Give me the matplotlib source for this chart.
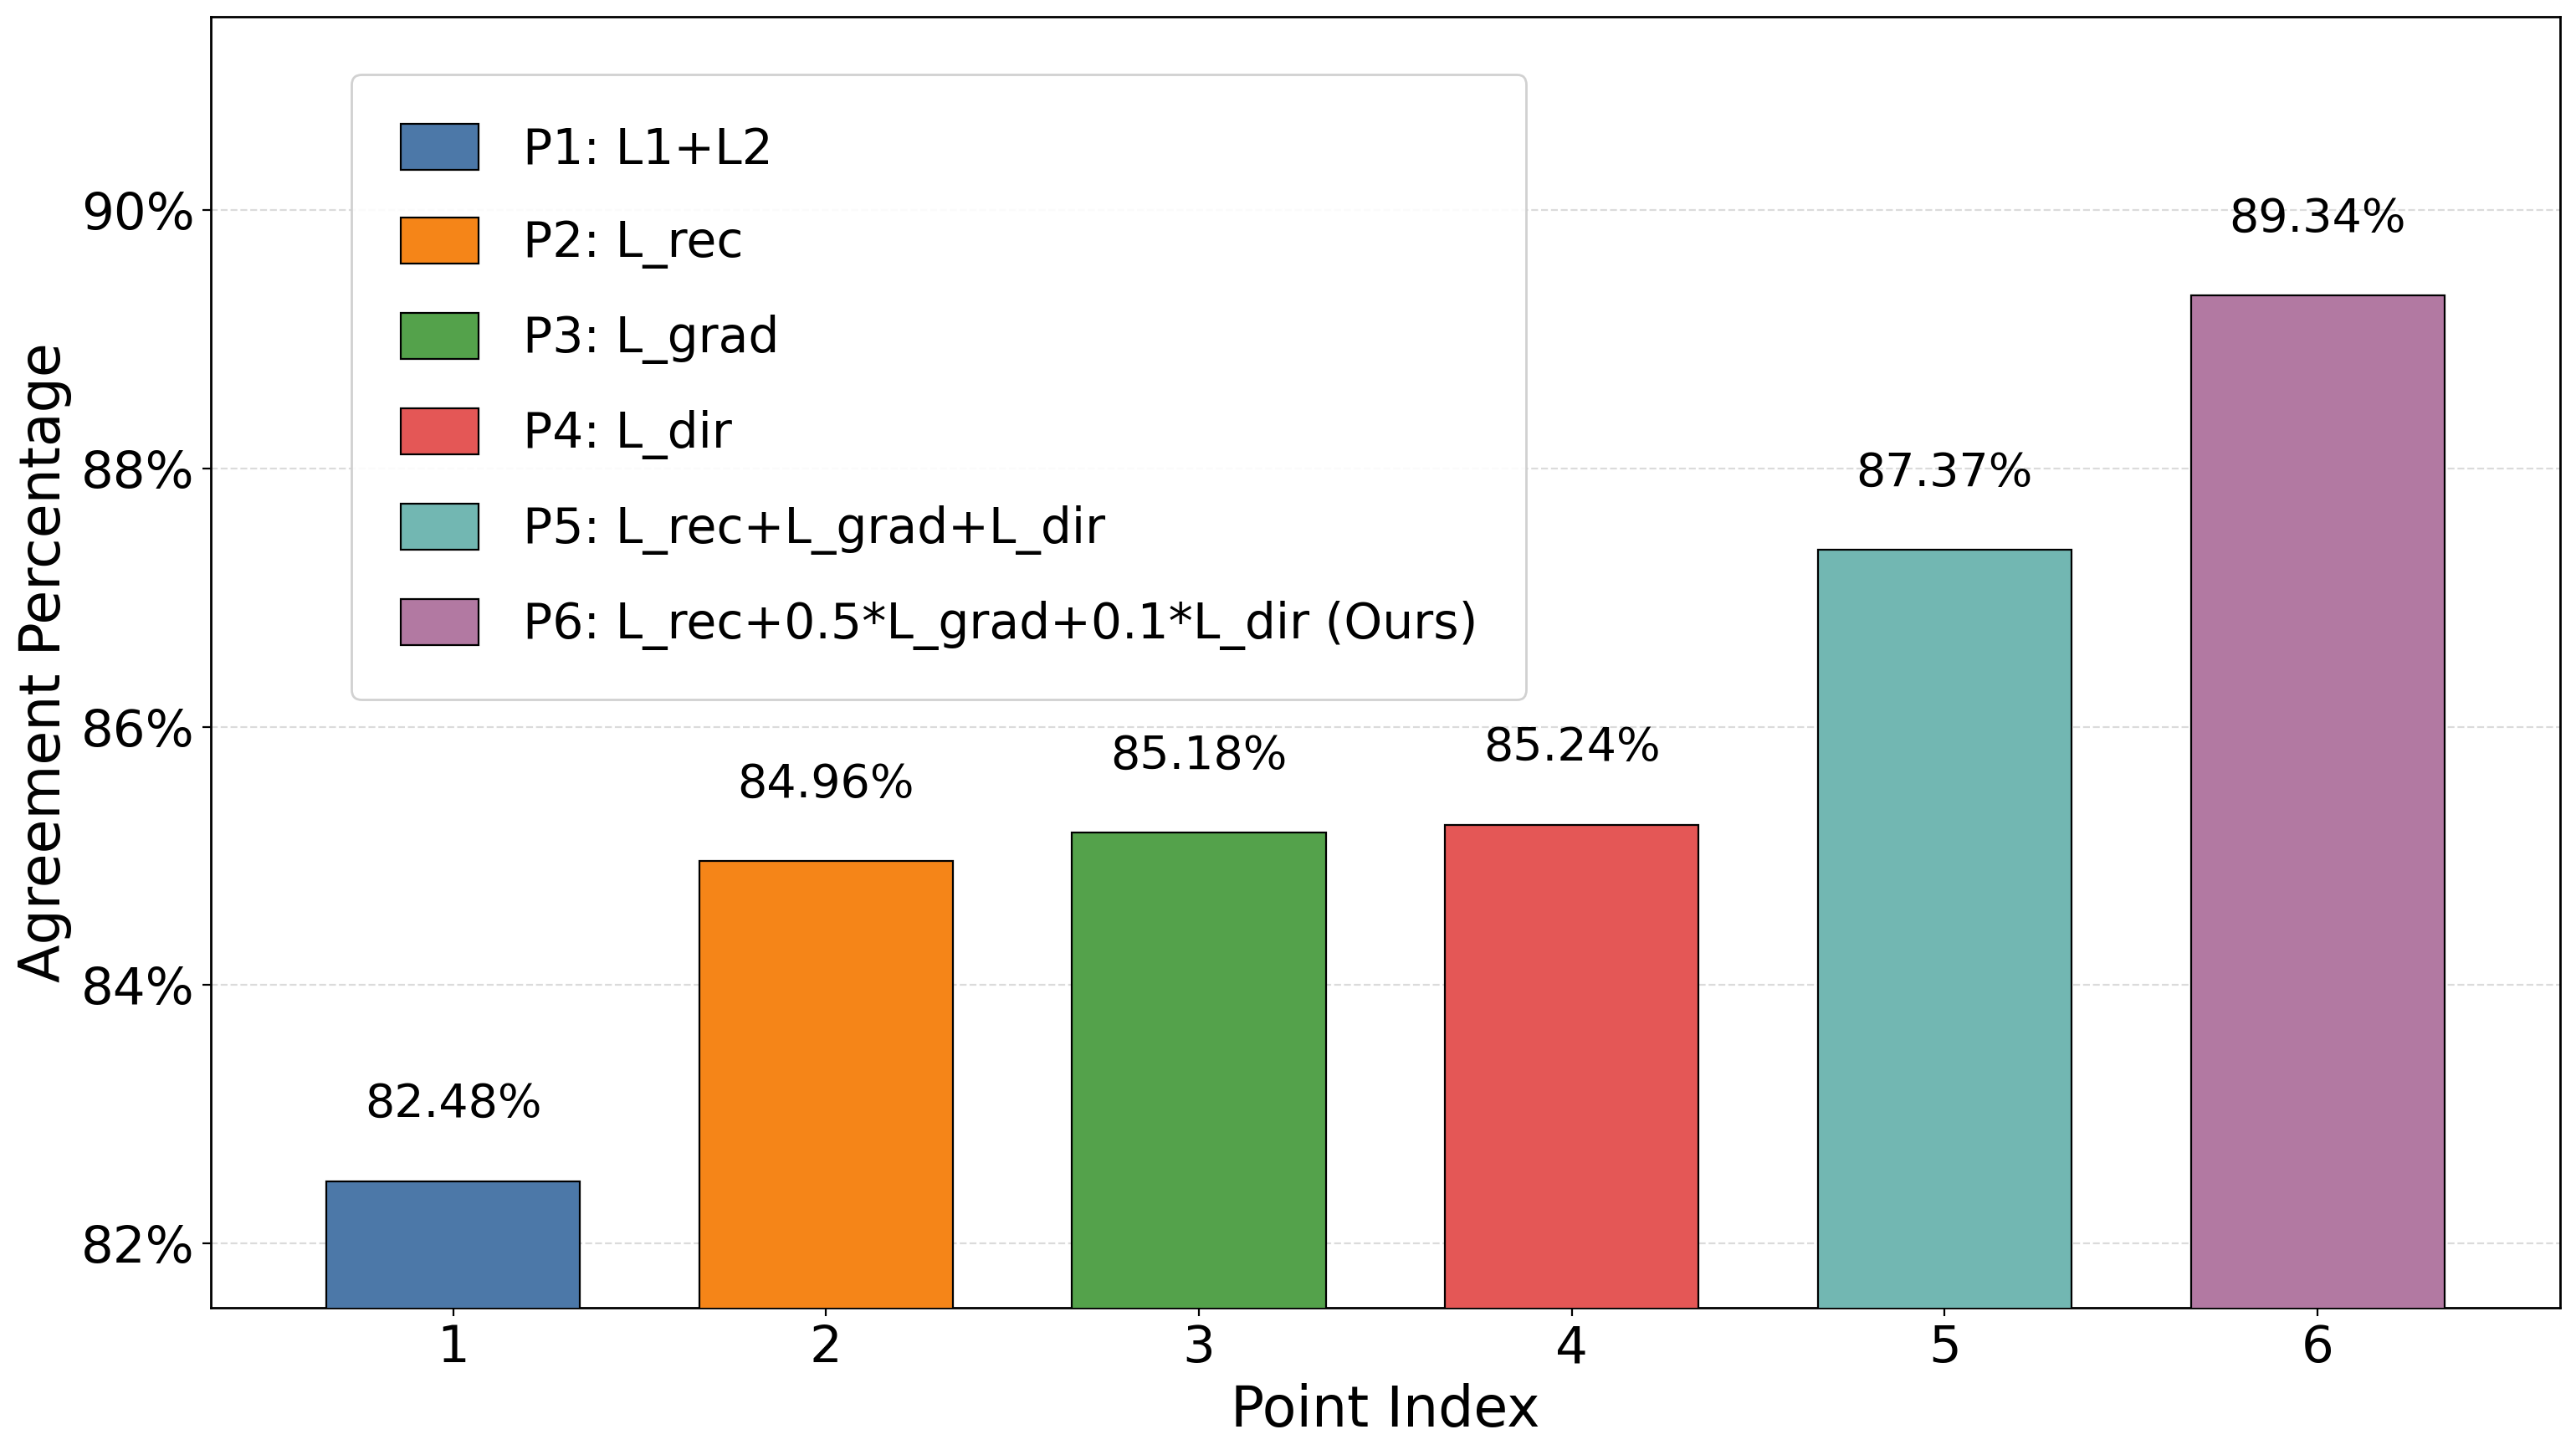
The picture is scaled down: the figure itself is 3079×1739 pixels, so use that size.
import matplotlib
matplotlib.use("Agg")
import matplotlib.pyplot as plt
from matplotlib.ticker import FuncFormatter

points = [1, 2, 3, 4, 5, 6]
values = [82.48, 84.96, 85.18, 85.24, 87.37, 89.34]
labels = ["P1: L1+L2", "P2: L_rec", "P3: L_grad", "P4: L_dir",
          "P5: L_rec+L_grad+L_dir", "P6: L_rec+0.5*L_grad+0.1*L_dir (Ours)"]
colors = ["#4c78a8", "#f58518", "#54a24b", "#e45756", "#72b7b2", "#b279a2"]

fig = plt.figure(figsize=(15.395, 8.695), dpi=200)
ax = fig.add_axes([0.0818, 0.1012, 0.912, 0.8873])

bars = ax.bar(points, values, width=0.68, color=colors, edgecolor="black",
              linewidth=0.8, label=labels, zorder=3)
for x, v in zip(points, values):
    ax.text(x, v + 0.42, f"{v:.2f}%", ha="center", va="bottom", fontsize=20)

ax.set_xlim(0.35, 6.65)
ax.set_ylim(81.5, 91.5)
ax.set_xticks(points)
ax.set_yticks([82, 84, 86, 88, 90])
ax.yaxis.set_major_formatter(FuncFormatter(lambda y, _: f"{y:.0f}%"))
ax.tick_params(axis="both", labelsize=22)
ax.grid(axis="y", linestyle="--", color="#cccccc", alpha=0.7, linewidth=0.8, zorder=0)
ax.set_axisbelow(True)
ax.set_xlabel("Point Index", fontsize=24)
ax.set_ylabel("Agreement Percentage", fontsize=24)
for s in ax.spines.values():
    s.set_linewidth(1.0)

ax.legend(handles=list(bars), labels=labels, loc="upper left",
          bbox_to_anchor=(0.06, 0.955), borderaxespad=0, fontsize=21,
          handlelength=1.6, handleheight=1.08, labelspacing=0.9,
          borderpad=1.0, handletextpad=0.9, framealpha=0.9)

fig.savefig("out.png", dpi=200)
